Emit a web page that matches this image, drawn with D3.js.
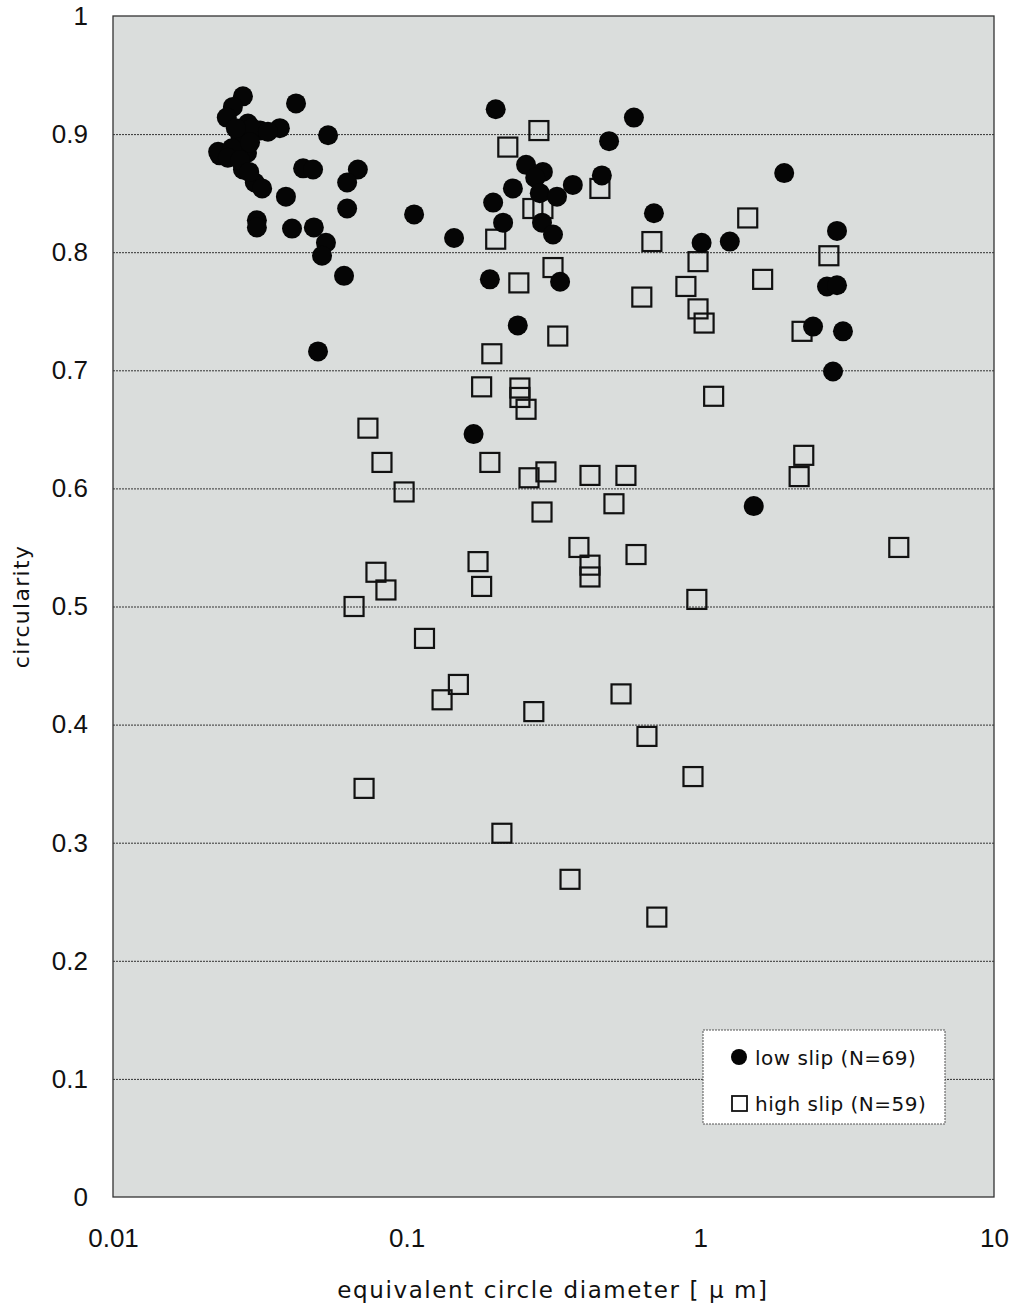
<!DOCTYPE html>
<html>
<head>
<meta charset="utf-8">
<script src="https://cdn.jsdelivr.net/npm/d3@7"></script>
<style>
  body { margin: 0; background: #fff; }
  text { font-family: "Liberation Sans", Arial, sans-serif; fill: #111; }
</style>
</head>
<body>
<svg class="chart"></svg>
<script>
// low slip (filled circles): diameter [um], circularity
var lowD = [0.0277, 0.0256, 0.0244, 0.0288, 0.0317, 0.0370, 0.0420, 0.0540, 0.0271, 0.0231,
  0.0228, 0.0286, 0.0277, 0.0304, 0.0444, 0.0480, 0.0682, 0.0627, 0.0388, 0.0627,
  0.0309, 0.0309, 0.0407, 0.0483, 0.0531, 0.0515, 0.0612, 0.0499, 0.106, 0.145,
  0.201, 0.594, 0.489, 0.255, 0.291, 0.274, 0.462, 0.368, 0.230, 0.284,
  0.325, 0.197, 0.213, 0.289, 0.315, 0.695, 0.192, 0.333, 0.239, 0.169,
  1.93, 1.01, 1.26, 2.92, 2.70, 2.92, 2.42, 3.06, 2.83, 1.52,
  0.0297, 0.0262, 0.0254, 0.0246, 0.0293, 0.0337, 0.0271, 0.0291, 0.0322];
var lowC = [0.932, 0.923, 0.914, 0.909, 0.903, 0.905, 0.926, 0.899, 0.899, 0.882,
  0.885, 0.884, 0.870, 0.859, 0.871, 0.870, 0.870, 0.859, 0.847, 0.837,
  0.827, 0.821, 0.820, 0.821, 0.808, 0.797, 0.780, 0.716, 0.832, 0.812,
  0.921, 0.914, 0.894, 0.874, 0.868, 0.863, 0.865, 0.857, 0.854, 0.850,
  0.847, 0.842, 0.825, 0.825, 0.815, 0.833, 0.777, 0.775, 0.738, 0.646,
  0.867, 0.808, 0.809, 0.818, 0.771, 0.772, 0.737, 0.733, 0.699, 0.585,
  0.905, 0.905, 0.888, 0.880, 0.893, 0.902, 0.878, 0.868, 0.854];

// high slip (open squares)
var highD = [0.282, 0.221, 0.455, 0.269, 0.291, 0.201, 0.684, 0.315, 0.241, 0.632,
  0.893, 0.982, 0.982, 1.03, 0.327, 0.195, 0.180, 0.243, 0.243, 0.255,
  0.0738, 0.0824, 0.192, 0.261, 0.298, 0.421, 0.558, 0.098, 0.508, 0.289,
  0.386, 0.604, 0.421, 0.421, 0.175, 0.180, 0.0786, 0.0850, 0.0662, 0.973,
  0.115, 0.150, 0.132, 0.271, 0.537, 0.658, 0.944, 0.0716, 0.211, 0.360,
  0.711, 1.45, 1.63, 2.74, 2.22, 2.25, 2.17, 4.74, 1.11];
var highC = [0.903, 0.889, 0.854, 0.837, 0.837, 0.811, 0.809, 0.787, 0.774, 0.762,
  0.771, 0.792, 0.752, 0.740, 0.729, 0.714, 0.686, 0.685, 0.677, 0.667,
  0.651, 0.622, 0.622, 0.609, 0.614, 0.611, 0.611, 0.597, 0.587, 0.580,
  0.550, 0.544, 0.535, 0.525, 0.538, 0.517, 0.529, 0.514, 0.500, 0.506,
  0.473, 0.434, 0.421, 0.411, 0.426, 0.390, 0.356, 0.346, 0.308, 0.269,
  0.237, 0.829, 0.777, 0.797, 0.733, 0.628, 0.610, 0.550, 0.678];

var xTicks = [0.01, 0.1, 1, 10];
var yTicks = [0, 0.1, 0.2, 0.3, 0.4, 0.5, 0.6, 0.7, 0.8, 0.9, 1];
var legendLabels = ["low slip (N=69)", "high slip (N=59)"];

var margin = {top: 16, right: 25, bottom: 113, left: 113},
  width = 1019 - margin.left - margin.right,
  height = 1310 - margin.top - margin.bottom;

var chart = d3.select(".chart")
  .attr("width", 1019)
  .attr("height", 1310);
var body = chart.append("g")
  .attr("transform", "translate(" + margin.left + "," + margin.top + ")");

var x = d3.scaleLog().domain([0.01, 10]).range([0, width]);
var y = d3.scaleLinear().domain([0, 1]).range([height, 0]);

// plot background
body.append("rect")
  .attr("width", width)
  .attr("height", height)
  .attr("fill", "#dadddc");

// gridlines
body.append("g")
  .attr("class", "grid")
  .call(d3.axisLeft(y).tickValues(yTicks.slice(1, -1)).tickSize(-width).tickFormat(""))
  .call(function(g) { g.select(".domain").remove(); })
  .selectAll("line")
    .attr("stroke", "#333")
    .attr("stroke-width", 1)
    .attr("stroke-dasharray", "2,1");

// frame
body.append("rect")
  .attr("width", width)
  .attr("height", height)
  .attr("fill", "none")
  .attr("stroke", "#333")
  .attr("stroke-width", 1.3);

// axes (labels only)
var yAxis = body.append("g")
  .call(d3.axisLeft(y).tickValues(yTicks).tickSize(0).tickPadding(25)
    .tickFormat(function(d) { return String(+d.toFixed(1)); }));
yAxis.select(".domain").remove();
yAxis.selectAll("text")
  .style("font-size", "26px")
  .attr("font-family", "Liberation Sans, Arial, sans-serif")
  .attr("fill", "#111");

var xAxis = body.append("g")
  .attr("transform", "translate(0," + height + ")")
  .call(d3.axisBottom(x).tickValues(xTicks).tickSize(0).tickPadding(32)
    .tickFormat(function(d) { return String(d); }));
xAxis.select(".domain").remove();
xAxis.selectAll("text")
  .style("font-size", "26px")
  .attr("font-family", "Liberation Sans, Arial, sans-serif")
  .attr("fill", "#111");

// axis titles
chart.append("text")
  .attr("x", 553)
  .attr("y", 1298)
  .attr("text-anchor", "middle")
  .style("font-family", "'DejaVu Sans', sans-serif")
  .style("font-size", "23px")
  .style("letter-spacing", "1.6px")
  .text("equivalent circle diameter [ \u03bc m]");
chart.append("text")
  .attr("transform", "translate(29," + (margin.top + height / 2) + ") rotate(-90)")
  .attr("text-anchor", "middle")
  .style("font-family", "'DejaVu Sans', sans-serif")
  .style("font-size", "22px")
  .style("letter-spacing", "1.3px")
  .text("circularity");

// high slip squares
var sq = 19;
body.append("g").selectAll("rect")
  .data(d3.zip(highD, highC))
  .enter().append("rect")
    .attr("x", function(d) { return x(d[0]) - sq / 2; })
    .attr("y", function(d) { return y(d[1]) - sq / 2; })
    .attr("width", sq)
    .attr("height", sq)
    .attr("fill", "none")
    .attr("stroke", "#111")
    .attr("stroke-width", 2.2);

// low slip circles
body.append("g").selectAll("circle")
  .data(d3.zip(lowD, lowC))
  .enter().append("circle")
    .attr("cx", function(d) { return x(d[0]); })
    .attr("cy", function(d) { return y(d[1]); })
    .attr("r", 10)
    .attr("fill", "#050505");

// legend
var legend = chart.append("g").attr("transform", "translate(703,1030)");
legend.append("rect")
  .attr("width", 242)
  .attr("height", 94)
  .attr("fill", "#fff")
  .attr("stroke", "#555")
  .attr("stroke-dasharray", "2,1");
legend.append("circle")
  .attr("cx", 36).attr("cy", 27).attr("r", 8)
  .attr("fill", "#050505");
legend.append("rect")
  .attr("x", 29).attr("y", 66).attr("width", 15).attr("height", 15)
  .attr("fill", "none").attr("stroke", "#111").attr("stroke-width", 1.8);
legend.selectAll("text.lab")
  .data(legendLabels)
  .enter().append("text")
    .attr("class", "lab")
    .attr("x", 52)
    .attr("y", function(d, i) { return 35 + i * 46; })
    .style("font-family", "'DejaVu Sans', sans-serif")
    .style("font-size", "20px")
    .style("letter-spacing", "0.5px")
    .text(function(d) { return d; });
</script>
</body>
</html>
